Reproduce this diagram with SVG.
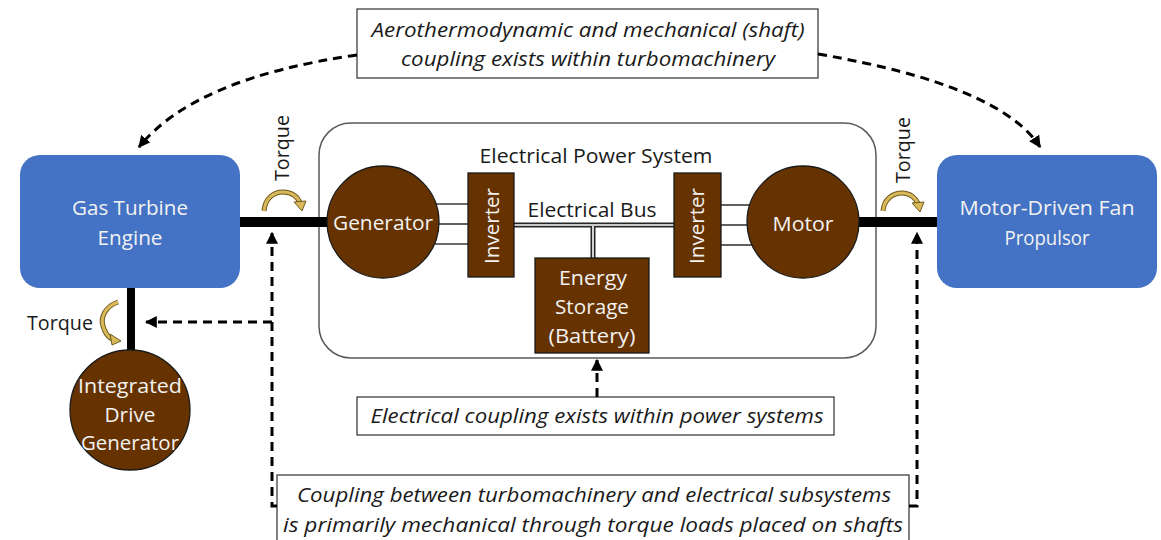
<svg xmlns="http://www.w3.org/2000/svg" width="1161" height="540" viewBox="0 0 1161 540">
<style>
.t{font-family:"Open Sans","Liberation Sans",sans-serif;font-size:20px;fill:#1a1a1a}
.w{font-family:"Open Sans","Liberation Sans",sans-serif;font-size:20.5px;fill:#f2f2f2}
.i{font-family:"Open Sans","Liberation Sans",sans-serif;font-size:20px;font-style:italic;fill:#1a1a1a}
.blue{fill:#4472C4}
.brown{fill:#663300;stroke:#1a1a1a;stroke-width:1.3}
.note{fill:#fff;stroke:#404040;stroke-width:1.3}
.dash{fill:none;stroke:#000;stroke-width:3;stroke-dasharray:9 6;marker-end:url(#ah)}
.phase{stroke:#3a3a3a;stroke-width:1.6}
.tq1{fill:none;stroke:#6E5A1E;stroke-width:5}
.tq2{fill:none;stroke:#D9B85A;stroke-width:3}
.tqh{fill:#D9B85A;stroke:#6E5A1E;stroke-width:1}
</style>
<defs>
<marker id="ah" viewBox="0 0 10 10" refX="9" refY="5" markerWidth="4" markerHeight="4" orient="auto" markerUnits="strokeWidth">
<path d="M0,0 L10,5 L0,10 z" fill="#000"/>
</marker>
</defs>
<rect width="1161" height="540" fill="#fff"/>

<g id="eps">
<rect x="319" y="123" width="557" height="235" rx="32" fill="#fff" stroke="#595959" stroke-width="1.5"/>
<text class="t" x="596" y="163" text-anchor="middle" textLength="233" lengthAdjust="spacingAndGlyphs">Electrical Power System</text>
</g>

<g id="shafts">
<rect x="240" y="217" width="88" height="10" fill="#000"/>
<rect x="859" y="217" width="78" height="10" fill="#000"/>
<rect x="127" y="288" width="8" height="63" fill="#000"/>
</g>

<g id="bus">
<line class="phase" x1="435" y1="204" x2="468" y2="204"/>
<line class="phase" x1="438" y1="224" x2="468" y2="224"/>
<line class="phase" x1="435" y1="244" x2="468" y2="244"/>
<line class="phase" x1="721" y1="205" x2="752" y2="205"/>
<line class="phase" x1="721" y1="225" x2="748" y2="225"/>
<line class="phase" x1="721" y1="245" x2="752" y2="245"/>
<line x1="514" y1="225" x2="674" y2="225" stroke="#262626" stroke-width="5"/>
<line x1="593" y1="225" x2="593" y2="258" stroke="#262626" stroke-width="5"/>
<line x1="514" y1="225" x2="674" y2="225" stroke="#fff" stroke-width="1.6"/>
<line x1="593" y1="226" x2="593" y2="258" stroke="#fff" stroke-width="1.6"/>
<text class="t" x="592" y="217" text-anchor="middle" textLength="129" lengthAdjust="spacingAndGlyphs">Electrical Bus</text>
</g>

<g id="gas-turbine">
<rect class="blue" x="20" y="155" width="220" height="133" rx="20"/>
<text class="w" x="130" y="215" text-anchor="middle" textLength="116" lengthAdjust="spacingAndGlyphs">Gas Turbine</text>
<text class="w" x="130" y="245" text-anchor="middle" textLength="65" lengthAdjust="spacingAndGlyphs">Engine</text>
</g>

<g id="fan">
<rect class="blue" x="937" y="155" width="220" height="133" rx="20"/>
<text class="w" x="1047" y="215" text-anchor="middle" textLength="175" lengthAdjust="spacingAndGlyphs">Motor-Driven Fan</text>
<text class="w" x="1047" y="245" text-anchor="middle" textLength="85" lengthAdjust="spacingAndGlyphs">Propulsor</text>
</g>

<g id="generator">
<circle class="brown" cx="383" cy="222" r="56"/>
<text class="w" x="383" y="230" text-anchor="middle" textLength="100" lengthAdjust="spacingAndGlyphs">Generator</text>
</g>

<g id="motor">
<circle class="brown" cx="803" cy="222" r="56"/>
<text class="w" x="803" y="231" text-anchor="middle" textLength="61" lengthAdjust="spacingAndGlyphs">Motor</text>
</g>

<g id="inverter-left">
<rect class="brown" x="468" y="173" width="46" height="104"/>
<text class="w" transform="translate(499,226) rotate(-90)" text-anchor="middle" textLength="76" lengthAdjust="spacingAndGlyphs">Inverter</text>
</g>

<g id="inverter-right">
<rect class="brown" x="674" y="173" width="47" height="104"/>
<text class="w" transform="translate(704,226) rotate(-90)" text-anchor="middle" textLength="76" lengthAdjust="spacingAndGlyphs">Inverter</text>
</g>

<g id="battery">
<rect class="brown" x="535" y="258" width="114" height="95"/>
<text class="w" x="593" y="285" text-anchor="middle" textLength="68" lengthAdjust="spacingAndGlyphs">Energy</text>
<text class="w" x="592" y="314" text-anchor="middle" textLength="74" lengthAdjust="spacingAndGlyphs">Storage</text>
<text class="w" x="592" y="343" text-anchor="middle" textLength="87" lengthAdjust="spacingAndGlyphs">(Battery)</text>
</g>

<g id="idg">
<circle class="brown" cx="130" cy="410" r="60"/>
<text class="w" x="130" y="393" text-anchor="middle" textLength="104" lengthAdjust="spacingAndGlyphs">Integrated</text>
<text class="w" x="130" y="422" text-anchor="middle" textLength="51" lengthAdjust="spacingAndGlyphs">Drive</text>
<text class="w" x="130" y="450" text-anchor="middle" textLength="98" lengthAdjust="spacingAndGlyphs">Generator</text>
</g>

<g id="torque-labels">
<text class="t" transform="translate(289,148) rotate(-90)" text-anchor="middle" textLength="66" lengthAdjust="spacingAndGlyphs">Torque</text>
<text class="t" transform="translate(910,150) rotate(-90)" text-anchor="middle" textLength="66" lengthAdjust="spacingAndGlyphs">Torque</text>
<text class="t" x="27" y="330" textLength="66" lengthAdjust="spacingAndGlyphs">Torque</text>
<path class="tq1" d="M264,211 C265,198 274,192 283,192 C292,192 298,197 300,203"/>
<path class="tq2" d="M264,211 C265,198 274,192 283,192 C292,192 298,197 300,203"/>
<polygon class="tqh" points="294,202 306,201 302,211"/>
<path class="tq1" d="M883,211 C884,199 893,193 902,193 C910,193 916,198 918,204"/>
<path class="tq2" d="M883,211 C884,199 893,193 902,193 C910,193 916,198 918,204"/>
<polygon class="tqh" points="912,203 924,202 920,212"/>
<path class="tq1" d="M118,302 C106,306 100,317 103,326 C105,333 108,337 112,339"/>
<path class="tq2" d="M118,302 C106,306 100,317 103,326 C105,333 108,337 112,339"/>
<polygon class="tqh" points="110,334 112,345 121,341"/>
</g>

<g id="notes">
<rect class="note" x="357" y="9" width="461" height="69"/>
<text class="i" x="588" y="37" text-anchor="middle" textLength="433" lengthAdjust="spacingAndGlyphs">Aerothermodynamic and mechanical (shaft)</text>
<text class="i" x="588" y="66" text-anchor="middle" textLength="374" lengthAdjust="spacingAndGlyphs">coupling exists within turbomachinery</text>
<rect class="note" x="357" y="397" width="477" height="38"/>
<text class="i" x="597" y="423" text-anchor="middle" textLength="453" lengthAdjust="spacingAndGlyphs">Electrical coupling exists within power systems</text>
<rect class="note" x="277" y="475" width="632" height="70"/>
<text class="i" x="594" y="502" text-anchor="middle" textLength="594" lengthAdjust="spacingAndGlyphs">Coupling between turbomachinery and electrical subsystems</text>
<text class="i" x="593" y="532" text-anchor="middle" textLength="620" lengthAdjust="spacingAndGlyphs">is primarily mechanical through torque loads placed on shafts</text>
</g>

<g id="connectors">
<path class="dash" d="M357,55 Q195,78 139,147"/>
<path class="dash" d="M818,54 Q1000,85 1040,147"/>
<path class="dash" d="M277,506 H272 V233"/>
<path class="dash" d="M272,322 H146"/>
<path class="dash" d="M909,506 H917 V233"/>
<path class="dash" d="M597,397 V360"/>
</g>
</svg>
